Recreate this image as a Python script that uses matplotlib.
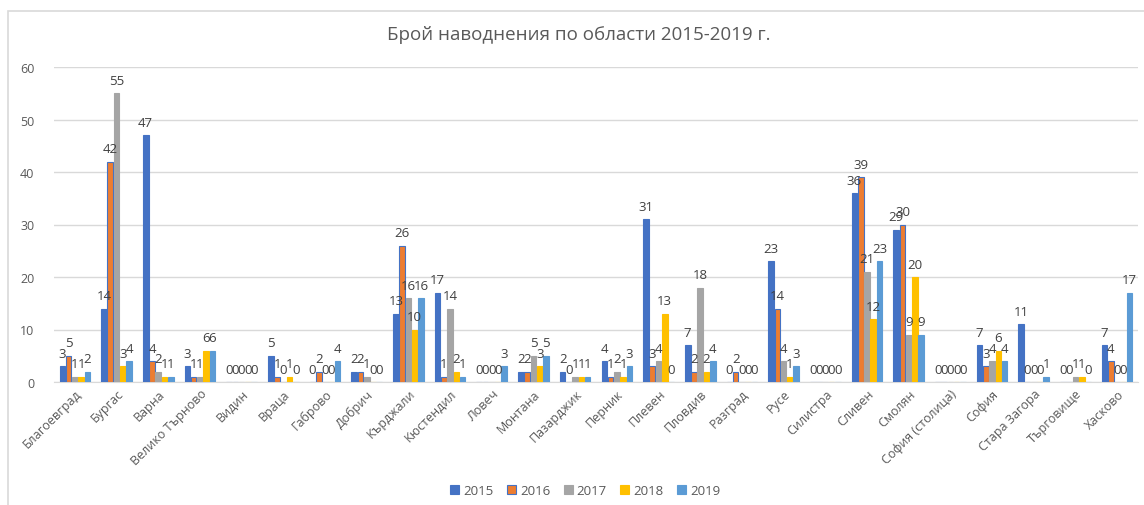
import matplotlib.pyplot as plt
import numpy as np
from matplotlib.patches import Rectangle

plt.rcParams["font.family"] = ["Open Sans", "DejaVu Sans"]

# Regions (x-axis categories)
regions = [
    "Благоевград", "Бургас", "Варна", "Велико Търново", "Видин", "Враца",
    "Габрово", "Добрич", "Кърджали", "Кюстендил", "Ловеч", "Монтана",
    "Пазарджик", "Перник", "Плевен", "Пловдив", "Разград", "Русе",
    "Силистра", "Сливен", "Смолян", "София (столица)", "София",
    "Стара Загора", "Търговище", "Хасково",
]

years = ["2015", "2016", "2017", "2018", "2019"]

# Number of floods per region and year
floods_2015 = [3, 14, 47, 3, 0, 5, 0, 2, 13, 17, 0, 2, 2, 4, 31, 7, 0, 23, 0, 36, 29, 0, 7, 11, 0, 7]
floods_2016 = [5, 42, 4, 1, 0, 1, 2, 2, 26, 1, 0, 2, 0, 1, 3, 2, 2, 14, 0, 39, 30, 0, 3, 0, 0, 4]
floods_2017 = [1, 55, 2, 1, 0, 0, 0, 1, 16, 14, 0, 5, 1, 2, 4, 18, 0, 4, 0, 21, 9, 0, 4, 0, 1, 0]
floods_2018 = [1, 3, 1, 6, 0, 1, 0, 0, 10, 2, 0, 3, 1, 1, 13, 2, 0, 1, 0, 12, 20, 0, 6, 0, 1, 0]
floods_2019 = [2, 4, 1, 6, 0, 0, 4, 0, 16, 1, 3, 5, 1, 3, 0, 4, 0, 3, 0, 23, 9, 0, 4, 1, 0, 17]

series = [floods_2015, floods_2016, floods_2017, floods_2018, floods_2019]
colors = ["#4472C4", "#ED7D31", "#A5A5A5", "#FFC000", "#5B9BD5"]
edges = ["#4472C4", "#4472C4", "#A5A5A5", "#FFC000", "#5B9BD5"]

fig = plt.figure(figsize=(11.44, 5.06), dpi=100)
ax = fig.add_axes([54 / 1144, 1 - 383 / 506, 1084 / 1144, 315 / 506])

# Chart frame (cropped on right/bottom as in the screenshot)
fig.patches.append(Rectangle((8 / 1144, -0.1), 1.2, 1 - 12 / 506 + 0.1,
                             transform=fig.transFigure, fill=False,
                             edgecolor="#D9D9D9", linewidth=1.2))

x = np.arange(len(regions))
slot = 0.15
for i, (vals, year) in enumerate(zip(series, years)):
    pos = x + (i - 2) * slot
    ax.bar(pos, vals, width=slot * 0.9, color=colors[i], edgecolor=edges[i],
           linewidth=0.8, label=year, zorder=3)
    for p, v in zip(pos, vals):
        ax.text(p, v + 1.2, str(v), ha="center", va="bottom",
                fontsize=9.5, color="#404040", zorder=4)

ax.set_xlim(-0.5, len(regions) - 0.5)
ax.set_ylim(0, 60)
ax.set_yticks(range(0, 61, 10))
ax.yaxis.grid(True, color="#D9D9D9", linewidth=1)
ax.set_axisbelow(True)
for side in ["top", "right", "left"]:
    ax.spines[side].set_visible(False)
ax.spines["bottom"].set_color("#D9D9D9")
ax.tick_params(axis="both", length=0, colors="#595959", labelsize=9)
ax.tick_params(axis="y", pad=14)

ax.set_xticks(x)
ax.set_xticklabels(regions, rotation=45, ha="right", rotation_mode="anchor")

fig.text(0.506, 1 - 35 / 506, "Брой наводнения по области 2015-2019 г.",
         ha="center", va="center", fontsize=13.5, color="#595959")

ax.legend(loc="center", bbox_to_anchor=(0.49, -0.345), ncol=5, frameon=False,
          fontsize=9.5, handlelength=0.7, handleheight=0.7, handletextpad=0.3,
          columnspacing=1.0, labelcolor="#595959")

fig.savefig("out.png", dpi=100)
